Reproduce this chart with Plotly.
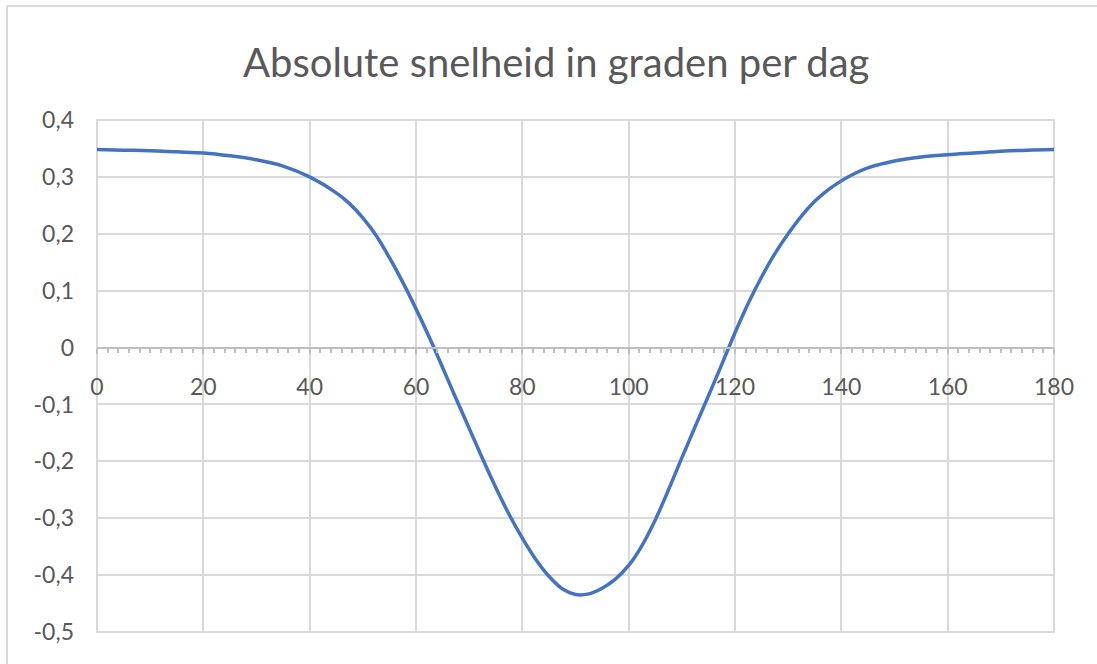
import plotly.graph_objects as go

days = [0, 5, 10, 15, 20, 25, 30, 35, 40, 45, 47.5, 50, 52.5, 55, 57.5, 60, 62.5,
        65, 67.5, 70, 72.5, 75, 77.5, 80, 82.5, 85, 87.5, 90, 92.5, 95, 97.5, 100,
        102.5, 105, 107.5, 110, 112.5, 115, 117.5, 120, 122.5, 125, 127.5, 130,
        132.5, 135, 137.5, 140, 142.5, 145, 150, 155, 160, 165, 170, 175, 180]
speed = [0.348, 0.347, 0.346, 0.344, 0.342, 0.337, 0.330, 0.319, 0.300, 0.272,
         0.253, 0.228, 0.197, 0.158, 0.115, 0.068, 0.018, -0.035, -0.089, -0.142,
         -0.195, -0.246, -0.293, -0.335, -0.372, -0.402, -0.424, -0.434, -0.433,
         -0.423, -0.407, -0.383, -0.348, -0.303, -0.250, -0.194, -0.139, -0.085,
         -0.030, 0.026, 0.078, 0.124, 0.165, 0.200, 0.231, 0.257, 0.277, 0.293,
         0.306, 0.316, 0.328, 0.335, 0.339, 0.342, 0.345, 0.347, 0.348]

x_ticks = [0, 20, 40, 60, 80, 100, 120, 140, 160, 180]
y_ticks = [0.4, 0.3, 0.2, 0.1, 0, -0.1, -0.2, -0.3, -0.4, -0.5]
y_labels = ["0,4", "0,3", "0,2", "0,1", "0", "-0,1", "-0,2", "-0,3", "-0,4", "-0,5"]
title_text = "Absolute snelheid in graden per dag"

FONT = "Lato, 'Open Sans', sans-serif"
GRID = "#d9d9d9"
TXT = "#595959"

fig = go.Figure()
fig.add_trace(go.Scatter(x=days, y=speed, mode="lines",
                         line=dict(color="#4472C4", width=3.5, shape="spline", smoothing=1.0),
                         hoverinfo="x+y"))

ymin, ymax = -0.5, 0.4
zero_pos = (0 - ymin) / (ymax - ymin)

fig.update_layout(
    width=1097, height=664,
    margin=dict(l=97, r=43, t=120, b=32),
    paper_bgcolor="white", plot_bgcolor="white",
    separators=",.",
    showlegend=False,
    title=dict(text=title_text, x=0.507, xanchor="center", y=0.905, yanchor="middle",
               font=dict(family=FONT, size=40, color=TXT)),
    xaxis=dict(range=[0, 180], tickvals=x_ticks, showgrid=True, gridcolor=GRID, gridwidth=2,
               zeroline=False, anchor="free", position=zero_pos,
               showline=True, linecolor="#bfbfbf", linewidth=2,
               ticks="outside", ticklen=5, tickcolor="#bfbfbf", tickwidth=1.5,
               minor=dict(dtick=2, ticks="outside", ticklen=4, tickcolor="#bfbfbf",
                          tickwidth=1.5, showgrid=False),
               tickfont=dict(family=FONT, size=23, color=TXT),
               ticklabelstandoff=14),
    yaxis=dict(range=[ymin, ymax], tickvals=y_ticks, ticktext=y_labels,
               showgrid=True, gridcolor=GRID, gridwidth=2,
               zeroline=False, showline=False, ticks="",
               tickfont=dict(family=FONT, size=23, color=TXT),
               ticklabelstandoff=22),
)

# edge gridlines of the plot area
fig.add_shape(type="rect", xref="paper", yref="paper", x0=0, x1=1, y0=0, y1=1,
              line=dict(color=GRID, width=2), layer="below")

# outer chart border (left and top visible)
bx = (7 - 97) / 957
by = (632 - 6) / 512
fig.add_shape(type="line", xref="paper", yref="paper", x0=bx, x1=1.2, y0=by, y1=by,
              line=dict(color="#d9d9d9", width=2))
fig.add_shape(type="line", xref="paper", yref="paper", x0=bx, x1=bx, y0=by, y1=-0.2,
              line=dict(color="#d9d9d9", width=2))

fig.write_html("out.html", config={"displayModeBar": False},
               post_script="document.body.style.margin='0';")
